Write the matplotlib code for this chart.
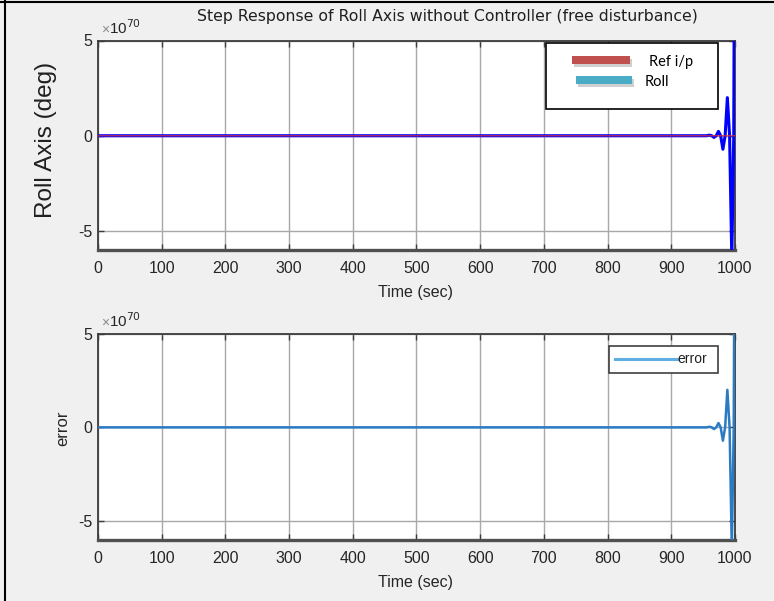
import numpy as np
import matplotlib
matplotlib.use('Agg')
import matplotlib.pyplot as plt
from matplotlib.transforms import Affine2D
from matplotlib.patches import Rectangle
from matplotlib.lines import Line2D

plt.rcParams['axes.unicode_minus'] = False

# ---- data (values in units of 1e70) ----
time = [0, 940, 955, 960, 963.5, 967, 970.5, 974, 977.5, 981, 984.5, 988, 991.5, 995, 998, 1000]
roll = [0, 0, 0, 0.03, 0, -0.09, 0, 0.23, 0, -0.71, 0, 2.0, 0, -6.5, 0, 18]
ref_time = [0, 1000]
ref = [1e-70, 1e-70]
error = [0, 0, 0, 0.03, 0, -0.09, 0, 0.23, 0, -0.71, 0, 2.0, 0, -6.5, 0, 18]
x_ticks = [0, 100, 200, 300, 400, 500, 600, 700, 800, 900, 1000]
y_ticks = [-5, 0, 5]

W, H = 774, 601
fig = plt.figure(figsize=(W / 100, H / 100), dpi=100, facecolor='#f0f0f0')
px = Affine2D().scale(1 / W, -1 / H).translate(0, 1) + fig.transFigure

TICKFONT = 'Liberation Sans'
tc = '#262626'


def style(ax):
    ax.set_facecolor('white')
    ax.set_xlim(0, 1000)
    ax.set_ylim(-6, 5)
    ax.set_xticks(x_ticks)
    ax.set_yticks(y_ticks)
    ax.grid(True, color='#a8a8a8', lw=1.0)
    ax.set_axisbelow(True)
    for s in ax.spines.values():
        s.set_color('#3c3c3c')
        s.set_linewidth(1.3)
    ax.spines['bottom'].set_linewidth(2.4)
    ax.spines['bottom'].set_color('#505050')
    ax.tick_params(direction='in', length=4, width=1, colors='#3c3c3c',
                   top=True, right=True, labelsize=11.5, labelcolor=tc)
    ax.tick_params(axis='x', pad=8)
    ax.tick_params(axis='y', pad=4)
    for lab in ax.get_xticklabels() + ax.get_yticklabels():
        lab.set_fontfamily(TICKFONT)


ax1 = fig.add_axes([98 / W, 1 - 250 / H, 637 / W, (250 - 40.5) / H])
style(ax1)
ax1.plot(time, roll, color='#0000ff', lw=2.2, zorder=3, snap=False)
ax1.plot(ref_time, ref, color='#e0303a', lw=1.0, alpha=0.75, zorder=4, snap=False)

ax2 = fig.add_axes([98 / W, 1 - 540 / H, 637 / W, (540 - 333.5) / H])
style(ax2)
ax2.plot(time, error, color='#2b7bc4', lw=1.8, zorder=3)

# multipliers
for y0 in (34, 327):
    fig.text(101, y0, '\u00d7', transform=px, fontsize=10, color='#8a8a8a',
             family=TICKFONT, va='baseline')
    fig.text(109, y0, '10$^{70}$', transform=px, fontsize=11, color=tc,
             family=TICKFONT, va='baseline')

# x labels
for y0 in (292, 582):
    fig.text(416, y0, 'Time (sec)', transform=px, fontsize=11.5, color=tc,
             family=TICKFONT, ha='center', va='center')

# title
fig.text(447, 17, 'Step Response of Roll Axis without Controller (free disturbance)',
         transform=px, fontsize=11.3, color='#202020', family='DejaVu Sans',
         ha='center', va='center')

# y labels
fig.text(46, 140, 'Roll Axis (deg)', transform=px, fontsize=17.5, color='#202020',
         family='Liberation Sans', ha='center', va='center', rotation=90)
fig.text(63, 428, 'error', transform=px, fontsize=12, color=tc,
         family=TICKFONT, ha='center', va='center', rotation=90)

# top legend (custom box)
fig.add_artist(Rectangle((546, 43), 172, 66, transform=px, facecolor='white',
                         edgecolor='black', lw=1.2, zorder=10))
for (x0, y0, w, c) in [(572, 56, 58, '#c0504d'), (576, 76, 56, '#4bacc6')]:
    fig.add_artist(Rectangle((x0 + 2, y0 + 3), w, 8, transform=px, facecolor='#b0b0b0',
                             edgecolor='none', alpha=0.6, zorder=10.5))
    fig.add_artist(Rectangle((x0, y0), w, 8, transform=px, facecolor=c,
                             edgecolor='none', zorder=11))
fig.text(649, 62, 'Ref i/p', transform=px, fontsize=10.5, color='black',
         family='Lato', va='center', zorder=12)
fig.text(645, 82, 'Roll', transform=px, fontsize=10.5, color='black',
         family='Lato', va='center', zorder=12)

# bottom legend
fig.add_artist(Rectangle((609, 346), 109, 27, transform=px, facecolor='white',
                         edgecolor='#404040', lw=1.2, zorder=10))
fig.add_artist(Line2D([615, 677], [359, 359], transform=px, color='#5eaee2', lw=2.2,
                      zorder=11))
fig.text(677, 359, 'error', transform=px, fontsize=10, color='#202020',
         family=TICKFONT, va='center', zorder=12)

# figure border (left and top)
fig.add_artist(Line2D([4.5, 4.5], [0, H], transform=px, color='black', lw=1.5))
fig.add_artist(Line2D([0, W], [1.5, 1.5], transform=px, color='black', lw=1.5))

fig.savefig('out.png', dpi=100, facecolor=fig.get_facecolor())
